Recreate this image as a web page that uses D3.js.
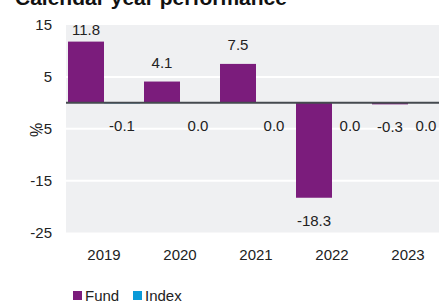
<html>
<head>
    <meta charset="utf-8">
    <script src="https://d3js.org/d3.v7.min.js"></script>
    <style>
        body { margin: 0; }
        svg { display: block; overflow: hidden; }
        svg text {
            font-family: "Liberation Sans", Arial, sans-serif;
            fill: #222;
        }
    </style>
</head>
<body>
<div id="chart"></div>
<script>
    var years = ["2019", "2020", "2021", "2022", "2023"];
    var seriesNames = ["Fund", "Index"];
    var fund = [11.8, 4.1, 7.5, -18.3, -0.3];
    var index = [-0.1, 0.0, 0.0, 0.0, 0.0];
    var yTicks = [15, 5, -5, -15, -25];
    var gridTicks = [5, -5, -15];

    var width = 439;
    var height = 307;
    var colors = { "Fund": "#7b1c7c", "Index": "#0a9ad8" };

    // plain hyphen for negatives, like the source
    var locale = d3.formatLocale({ decimal: ".", thousands: ",", grouping: [3], currency: ["", ""], minus: "-" });
    var fmtVal = locale.format('.1f');
    var fmtTick = locale.format('d');

    var svg = d3.select("#chart")
        .append('svg')
        .attr('width', width)
        .attr('height', height);

    var x0 = d3.scaleBand().domain(years).range([66, 446]).padding(0);
    var x1 = d3.scaleBand().domain(seriesNames).range([2, 74]).padding(0);
    var y = d3.scaleLinear().domain([-25, 15]).range([232.5, 25]);

    // title, cut off at the top like the source
    svg.append('text')
        .attr('x', 15)
        .attr('y', 5)
        .style('font-size', '21px')
        .style('font-weight', 'bold')
        .style('fill', '#111')
        .text("Calendar year performance");

    // plot background
    svg.append('rect')
        .attr('x', x0.range()[0])
        .attr('y', y(15))
        .attr('width', x0.range()[1] - x0.range()[0])
        .attr('height', y(-25) - y(15))
        .attr('fill', '#eff0f2');

    svg.selectAll('line.grid')
        .data(gridTicks)
        .enter()
        .append('line')
        .attr('class', 'grid')
        .attr('x1', x0.range()[0])
        .attr('x2', x0.range()[1])
        .attr('y1', function(d) { return y(d); })
        .attr('y2', function(d) { return y(d); })
        .attr('stroke', '#fff')
        .attr('stroke-width', 2);

    // y axis labels
    var yAxis = d3.axisLeft(y).tickValues(yTicks).tickSize(0).tickPadding(0)
        .tickFormat(fmtTick);
    var gy = svg.append('g')
        .attr('transform', 'translate(52,0)')
        .call(yAxis);
    gy.select('.domain').remove();
    gy.selectAll('text').style('font-size', '15px').attr('fill', '#222');

    // axis title sits over the minus of -5, as in the source
    svg.append('text')
        .attr('transform', 'translate(42,130) rotate(-90)')
        .attr('text-anchor', 'middle')
        .style('font-size', '16px')
        .text('%');

    var rows = years.map(function(yr, i) {
        return { year: yr, values: [
            { key: "Fund", value: fund[i] },
            { key: "Index", value: index[i] }
        ] };
    });

    var groups = svg.selectAll('g.year')
        .data(rows)
        .enter()
        .append('g')
        .attr('class', 'year')
        .attr('transform', function(d) { return 'translate(' + x0(d.year) + ',0)'; });

    groups.selectAll('rect')
        .data(function(d) { return d.values; })
        .enter()
        .append('rect')
        .attr('x', function(d) { return x1(d.key); })
        .attr('width', x1.bandwidth())
        .attr('y', function(d) { return y(Math.max(0, d.value)); })
        .attr('height', function(d) { return Math.abs(y(d.value) - y(0)); })
        .attr('fill', function(d) { return colors[d.key]; });

    groups.selectAll('text.val')
        .data(function(d) { return d.values; })
        .enter()
        .append('text')
        .attr('class', 'val')
        .attr('text-anchor', 'middle')
        .style('font-size', '15px')
        .attr('x', function(d) { return x1(d.key) + x1.bandwidth() / 2; })
        .attr('y', function(d) {
            if (d.value > 0) return Math.max(y(d.value) - 14, y(15) + 10);
            return y(d.value) + 28;
        })
        .text(function(d) { return fmtVal(d.value); });

    // zero line
    svg.append('line')
        .attr('x1', x0.range()[0])
        .attr('x2', x0.range()[1])
        .attr('y1', y(0))
        .attr('y2', y(0))
        .attr('stroke', '#454a4f')
        .attr('stroke-width', 2);

    // x axis labels
    var xAxis = d3.axisBottom(x0).tickSize(0).tickPadding(0);
    var gx = svg.append('g')
        .attr('transform', 'translate(0,249)')
        .call(xAxis);
    gx.select('.domain').remove();
    gx.selectAll('text').style('font-size', '15px').attr('fill', '#222').attr('dy', '0.71em');

    // legend
    var legend = svg.selectAll('g.legend')
        .data(seriesNames)
        .enter()
        .append('g')
        .attr('class', 'legend')
        .attr('transform', function(d, i) { return 'translate(' + (73 + i * 60) + ',291)'; });

    legend.append('rect')
        .attr('width', 9)
        .attr('height', 9)
        .attr('fill', function(d) { return colors[d]; });

    legend.append('text')
        .attr('x', 12)
        .attr('y', 10)
        .style('font-size', '15px')
        .text(function(d) { return d; });
</script>
</body>
</html>
